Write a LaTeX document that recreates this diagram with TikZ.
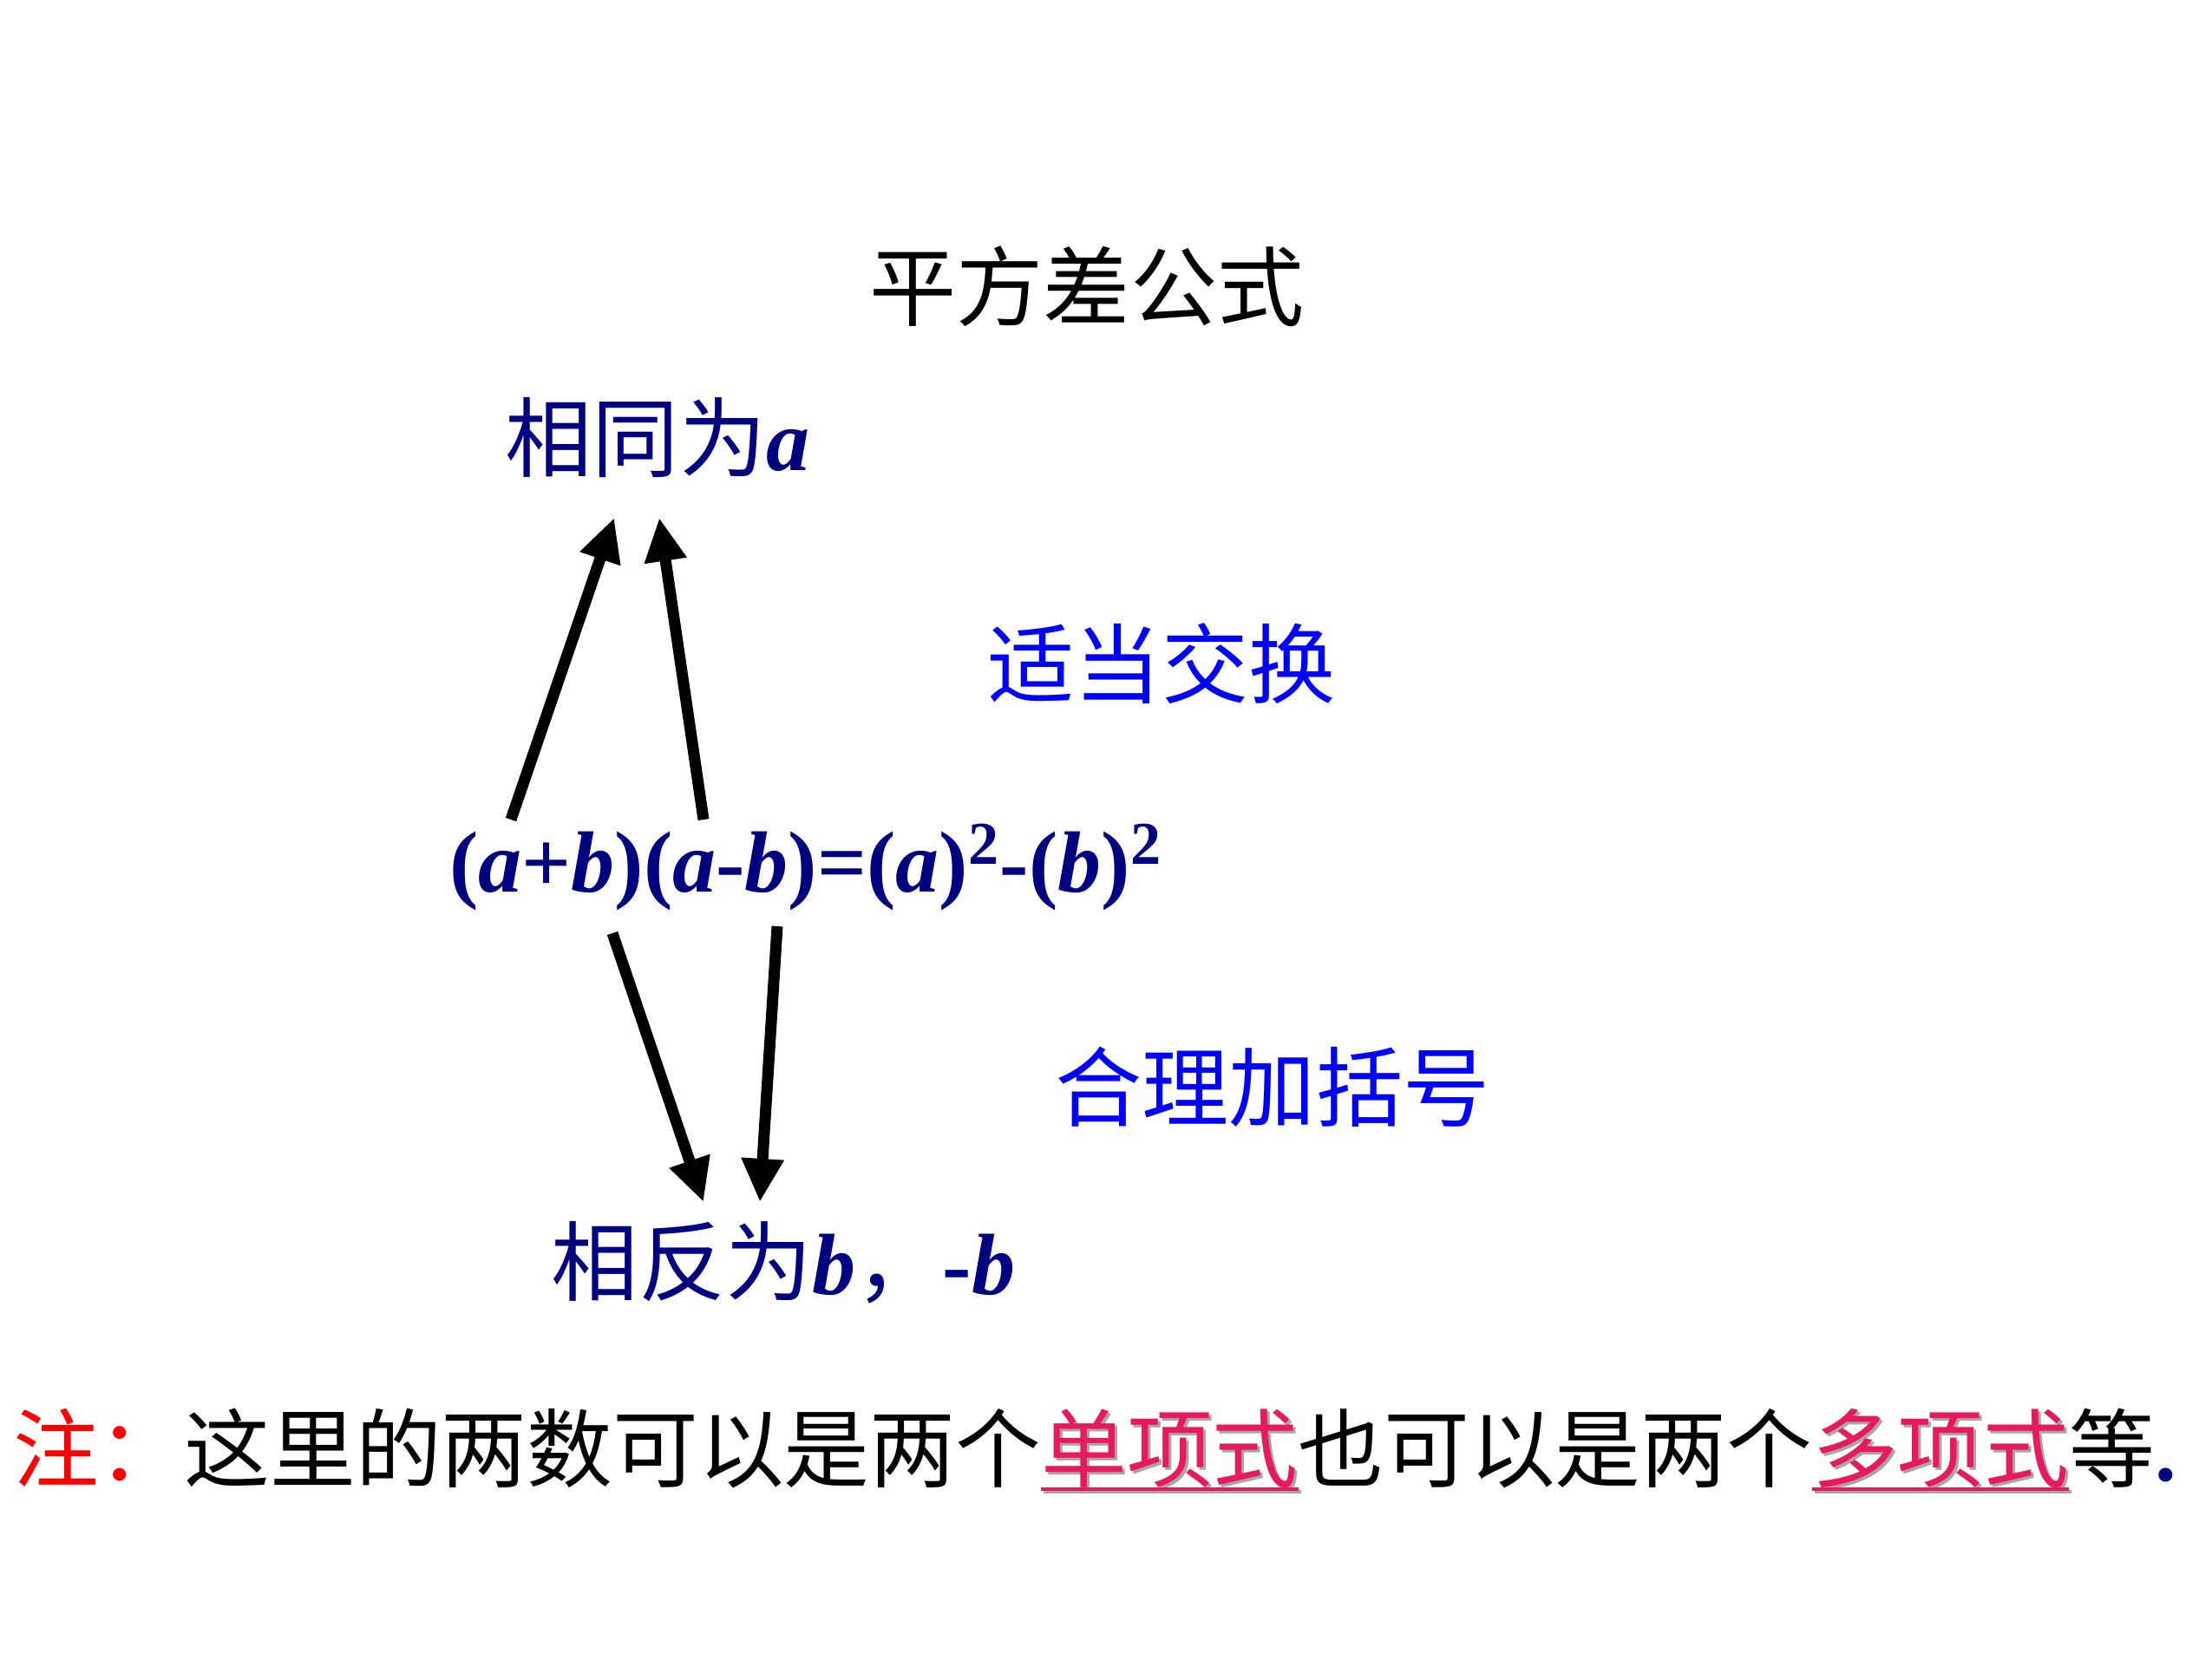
\documentclass[tikz,border=0pt]{standalone}
\usepackage{fontspec}
\setmainfont{Liberation Serif}
\newfontfamily\cjk{Noto Sans CJK SC}
\usetikzlibrary{arrows.meta}

\definecolor{formulanavy}{RGB}{0,0,128}
\definecolor{hintblue}{RGB}{0,0,255}
\definecolor{notered}{RGB}{255,0,0}
\definecolor{keypink}{RGB}{232,25,95}

% underlined pink word with a soft grey shadow
\newlength{\keywidth}
\newcommand{\keyword}[1]{\settowidth{\keywidth}{#1}%
  \rlap{\kern0.3mm\raisebox{-0.3mm}{\textcolor{black!35}{#1\llap{\rule[-1.1mm]{\keywidth}{0.4mm}}}}}%
  \textcolor{keypink}{#1\llap{\rule[-1.1mm]{\keywidth}{0.4mm}}}}
\newcommand{\var}[1]{\textbf{\textit{#1}}}

\begin{document}
\begin{tikzpicture}[
    every node/.style={inner sep=0pt},
    cjktext/.style={font=\fontsize{28.5}{34}\selectfont\cjk},
    formulatext/.style={font=\fontsize{28.5}{34}\selectfont\bfseries, text=formulanavy},
    bigarrow/.style={line width=1.3mm, -{Triangle[length=5mm,width=4.6mm]}}
  ]
  \useasboundingbox (0,0) rectangle (25.5,19.13);

  % texts
  \node[cjktext] (Title) at (12.53,15.83) {平方差公式};
  \node[cjktext, text=formulanavy] (SameA) at (7.58,14.08) {相同为{\rmfamily\var{a}}};
  \node[cjktext, text=hintblue] (SwapHint) at (13.39,11.48) {适当交换};
  \node[formulatext] (Formula) at (9.29,9.13)
    {(\var{a}+\var{b})(\var{a}-\var{b})=(\var{a})\textsuperscript{2}-(\var{b})\textsuperscript{2}};
  \node[cjktext, text=hintblue] (BracketHint) at (14.67,6.60) {合理加括号};
  \node[cjktext, text=formulanavy] (OppositeB) at (9.03,4.57)
    {相反为{\rmfamily\var{b}}，{\rmfamily\bfseries-\var{b}}};
  \node[font=\fontsize{28.1}{34}\selectfont\cjk] (Note) at (12.62,2.40)
    {\textcolor{notered}{注：}这里的两数可以是两个\keyword{单项式}也可以是两个\keyword{多项式}等{\rmfamily\bfseries\textcolor{formulanavy}{.}}};

  % arrow ends
  \coordinate (UpLeftFoot) at (5.89,9.68);
  \coordinate (UpLeftTip) at (7.08,13.16);
  \coordinate (UpRightFoot) at (8.11,9.68);
  \coordinate (UpRightTip) at (7.60,13.16);
  \coordinate (DownLeftFoot) at (7.06,8.37);
  \coordinate (DownLeftTip) at (8.11,5.27);
  \coordinate (DownRightFoot) at (8.96,8.45);
  \coordinate (DownRightTip) at (8.76,5.27);

  \draw[bigarrow] (UpLeftFoot) -- (UpLeftTip);
  \draw[bigarrow] (UpRightFoot) -- (UpRightTip);
  \draw[bigarrow] (DownLeftFoot) -- (DownLeftTip);
  \draw[bigarrow] (DownRightFoot) -- (DownRightTip);
\end{tikzpicture}
\end{document}
